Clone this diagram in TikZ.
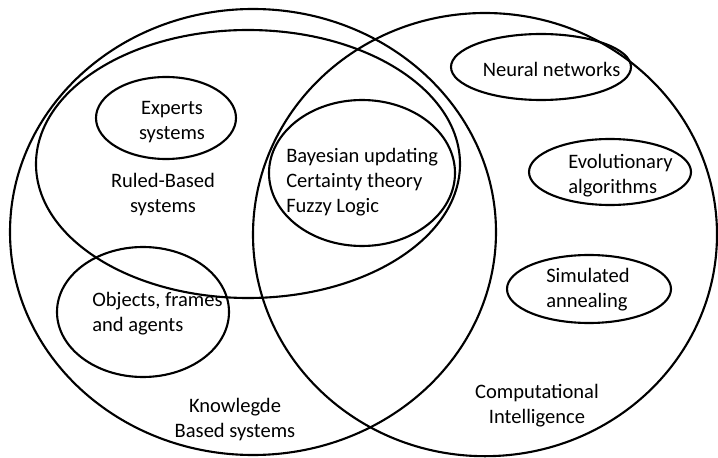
\documentclass[tikz,border=0pt]{standalone}
\usepackage{fontspec}
\setmainfont{Carlito}
\usepackage{tikz}
\usetikzlibrary{positioning}

\begin{document}
\begin{tikzpicture}[
  set/.style={draw, line width=1.5pt},
  label/.style={inner sep=0pt, font=\fontsize{14.6}{17.8}\selectfont},
  lefttext/.style={label, align=left, anchor=west},
  midtext/.style={label, align=center}
]
  \useasboundingbox (0, 0) rectangle (17.95, 11.425);
  % big sets
  \draw[set] (6.325, 5.625) ellipse (6.075 and 5.575);
  \draw[set] (12.125, 5.56) ellipse (5.8 and 5.54);
  \draw[set] (6.2, 7.325) ellipse (5.3 and 3.35);
  % small sets
  \draw[set] (4.15, 8.475) ellipse (1.75 and 1.025);
  \draw[set] (9.05, 7.1) ellipse (2.325 and 1.825);
  \draw[set] (3.575, 3.625) ellipse (2.15 and 1.625);
  \draw[set] (13.525, 9.75) ellipse (2.25 and 0.825);
  \draw[set] (15.25, 7.125) ellipse (2.025 and 0.825);
  \draw[set] (14.725, 4.2) ellipse (2.05 and 0.85);
  % texts
  \node[midtext] (experts) at (4.3, 8.375) {Experts\\systems};
  \node[midtext] (rules) at (4.075, 6.5625) {Ruled-Based\\systems};
  \node[lefttext] (uncertain) at (7.15, 6.8625) {Bayesian updating\\Certainty theory\\Fuzzy Logic};
  \node[lefttext] (objects) at (2.3, 3.5875) {Objects, frames\\and agents};
  \node[midtext] (knowledge) at (5.875, 0.925) {Knowlegde\\Based systems};
  \node[midtext] (neural) at (13.79, 9.7) {Neural networks};
  \node[lefttext] (evolution) at (14.2, 7.0375) {Evolutionary\\algorithms};
  \node[lefttext] (annealing) at (13.65, 4.1875) {Simulated\\annealing};
  \node[midtext] (compint) at (13.425, 1.275) {Computational\\Intelligence};
\end{tikzpicture}
\end{document}
